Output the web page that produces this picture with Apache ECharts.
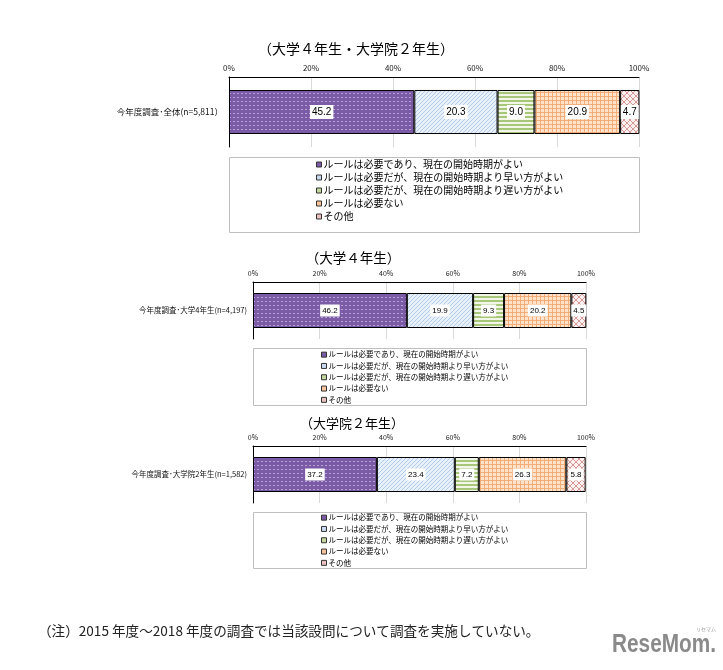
<!DOCTYPE html>
<html>
<head>
<meta charset="utf-8">
<script src="https://cdn.jsdelivr.net/npm/echarts@6/dist/echarts.min.js"></script>
<style>
html,body{margin:0;padding:0;background:#fff;}
#chart{width:723px;height:670px;}
</style>
</head>
<body>
<div id="chart"></div>
<script>
// ---- data ----
const seriesNames = [
  'ルールは必要であり、現在の開始時期がよい',
  'ルールは必要だが、現在の開始時期より早い方がよい',
  'ルールは必要だが、現在の開始時期より遅い方がよい',
  'ルールは必要ない',
  'その他'
];
const chartTitles = ['（大学４年生・大学院２年生）', '（大学４年生）', '（大学院２年生）'];
const categoriesAll = ['今年度調査･全体(n=5,811）'];
const categories4th = ['今年度調査･大学4年生(n=4,197)'];
const categoriesGrad = ['今年度調査･大学院2年生(n=1,582)'];
const valuesAll = [45.2, 20.3, 9.0, 20.9, 4.7];
const values4th = [46.2, 19.9, 9.3, 20.2, 4.5];
const valuesGrad = [37.2, 23.4, 7.2, 26.3, 5.8];
const xTicks = [0, 20, 40, 60, 80, 100];
const footnote = '（注）2015 年度～2018 年度の調査では当該設問について調査を実施していない。';

// ---- patterns ----
function makePattern(w, h, bg, draw) {
  const c = document.createElement('canvas');
  c.width = w; c.height = h;
  const g = c.getContext('2d');
  g.fillStyle = bg; g.fillRect(0, 0, w, h);
  draw(g);
  return { image: c, repeat: 'repeat' };
}
const patterns = [
  makePattern(4, 4, '#7b5aa6', g => { g.fillStyle = '#b7a3d6'; g.fillRect(1, 1, 2, 1); }),
  makePattern(4, 4, '#e8f0fa', g => { g.fillStyle = '#b3cbea'; for (let i = 0; i < 4; i++) g.fillRect(i, 3 - i, 1, 1); }),
  makePattern(4, 4, '#f1f6e6', g => { g.fillStyle = '#a8c679'; g.fillRect(0, 0, 4, 2); }),
  makePattern(4, 4, '#fde3cc', g => { g.fillStyle = '#f5ad78'; g.fillRect(0, 0, 4, 1); g.fillRect(0, 0, 1, 4); }),
  makePattern(6, 6, '#faf0f0', g => { g.fillStyle = '#d89896'; for (let i = 0; i < 6; i++) { g.fillRect(i, i, 1, 1); g.fillRect(i, 5 - i, 1, 1); } })
];
const legendColors = ['#7b5aa6', '#c9daf0', '#c4d89e', '#f9c39a', '#e8c0bf'];

const JP = '"Noto Sans CJK JP", "Noto Sans", sans-serif';

const charts = [
  { cats: categoriesAll, vals: valuesAll, grid: { left: 229, top: 77, width: 410, height: 70 }, barWidth: 44, axisFont: 8, catFont: 8.5, labelFont: 10,
    legend: { left: 316, top: 158, font: 10, lh: 13 }, box: [229, 157, 410, 75], title: [356, 49, 14] },
  { cats: categories4th, vals: values4th, grid: { left: 253, top: 282, width: 333, height: 57 }, barWidth: 35, axisFont: 7, catFont: 7.5, labelFont: 8,
    legend: { left: 321, top: 349, font: 7.5, lh: 11.3 }, box: [253, 348, 333, 57], title: [353, 258, 13.5] },
  { cats: categoriesGrad, vals: valuesGrad, grid: { left: 253, top: 446, width: 333, height: 57 }, barWidth: 35, axisFont: 7, catFont: 7.5, labelFont: 8,
    legend: { left: 321, top: 512, font: 7.5, lh: 11.3 }, box: [253, 512, 333, 56], title: [352, 423, 13] }
];

const option = {
  backgroundColor: '#fff',
  animation: false,
  grid: [], xAxis: [], yAxis: [], series: [], legend: [], graphic: []
};

charts.forEach((c, k) => {
  option.grid.push(Object.assign({ containLabel: false }, c.grid));
  option.xAxis.push({
    type: 'value', gridIndex: k, position: 'top', min: xTicks[0], max: xTicks[xTicks.length - 1], interval: xTicks[1] - xTicks[0],
    axisLine: { show: true, lineStyle: { color: '#000', width: 1 } },
    axisTick: { show: false },
    splitLine: { show: true, lineStyle: { color: '#d9d9d9', width: 1 } },
    axisLabel: { formatter: '{value}%', fontSize: c.axisFont, color: '#222', margin: 5, fontFamily: JP }
  });
  option.yAxis.push({
    type: 'category', gridIndex: k, data: c.cats, inverse: true,
    axisLine: { show: true, lineStyle: { color: '#000', width: 1 } },
    axisTick: { show: false },
    axisLabel: { fontSize: c.catFont, color: '#111', margin: 6, fontFamily: JP }
  });
  seriesNames.forEach((name, i) => {
    option.series.push({
      type: 'bar', name: name, xAxisIndex: k, yAxisIndex: k, stack: 'total' + k,
      barWidth: c.barWidth,
      data: [c.vals[i]],
      itemStyle: { color: patterns[i], borderColor: '#000', borderWidth: 1 },
      label: {
        show: true, position: 'inside', color: '#000', fontSize: c.labelFont, fontFamily: 'Liberation Sans, Arial, sans-serif',
        backgroundColor: '#fff', padding: [2, 2],
        formatter: p => Number(p.value).toFixed(1)
      },
      emphasis: { disabled: true }
    });
  });
  option.legend.push({
    orient: 'vertical', left: c.legend.left, top: c.legend.top, padding: 0, itemGap: 0,
    itemWidth: 5, itemHeight: 5, icon: 'rect', selectedMode: false,
    textStyle: { fontSize: c.legend.font, lineHeight: c.legend.lh, color: '#000', fontFamily: JP, padding: [0, 0, 0, -3] },
    data: seriesNames.map((n, i) => ({ name: n, itemStyle: { color: legendColors[i], borderColor: '#333', borderWidth: 1 } }))
  });
  option.graphic.push({
    type: 'rect', shape: { x: c.box[0] + 0.5, y: c.box[1] + 0.5, width: c.box[2], height: c.box[3] },
    style: { fill: 'none', stroke: '#bfbfbf', lineWidth: 1 }, z: 0
  });
  option.graphic.push({
    type: 'text', x: c.title[0], y: c.title[1],
    style: { text: chartTitles[k], fontSize: c.title[2], fill: '#000', fontFamily: JP, align: 'center', verticalAlign: 'middle' }
  });
});

option.graphic.push({
  type: 'text', x: 38, y: 631,
  style: { text: footnote, fontSize: 13.6, fill: '#222', fontFamily: JP, align: 'left', verticalAlign: 'middle' }
});
option.graphic.push({
  type: 'text', x: 716, y: 645, scaleX: 0.8, originX: 0, originY: 0,
  style: { text: 'ReseMom.', fontSize: 26, fontWeight: 'bold', fill: '#8a8a8a', fontFamily: '"Liberation Sans Narrow", "Liberation Sans", Arial, sans-serif', align: 'right', verticalAlign: 'middle' }
});
option.graphic.push({
  type: 'text', x: 706, y: 629,
  style: { text: 'リセマム', fontSize: 5, fill: '#999', fontFamily: JP, align: 'center', verticalAlign: 'middle' }
});

const chart = echarts.init(document.getElementById('chart'));
chart.setOption(option);
</script>
</body>
</html>
